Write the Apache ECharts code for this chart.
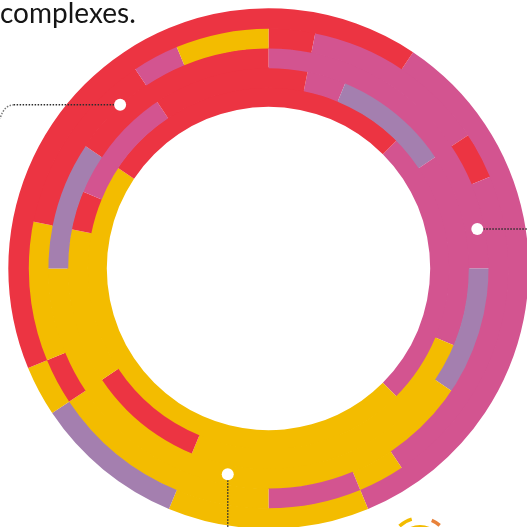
<!DOCTYPE html>
<html><head><meta charset="utf-8">
<script src="https://cdn.jsdelivr.net/npm/echarts@6/dist/echarts.min.js"></script>
<style>html,body{margin:0;padding:0;background:#fff;overflow:hidden}#c{width:527px;height:527px}</style>
</head><body><div id="c"></div>
<script>
// 32 angular cells per ring, clockwise from 12 o'clock. R=red, P=pink, Y=yellow, V=violet
const ring1 = ['R','R','R','P','P','P','P','P','P','P','P','P','P','P','Y','Y','Y','Y','V','V','V','Y','R','R','R','R','R','R','R','R','R','R'];
const ring2 = ['R','P','P','P','P','R','P','P','P','P','P','P','P','Y','P','P','Y','Y','Y','Y','Y','R','Y','Y','Y','R','R','R','R','P','Y','Y'];
const ring3 = ['P','P','P','P','P','P','P','P','V','V','V','Y','Y','Y','Y','Y','Y','Y','Y','Y','Y','Y','Y','Y','V','V','V','R','R','R','R','R'];
const ring4 = ['R','P','V','V','V','P','P','P','P','P','Y','Y','Y','Y','Y','Y','Y','Y','R','R','R','Y','Y','Y','Y','R','P','P','P','R','R','R'];
const ring5 = ['R','R','R','R','P','P','P','P','P','P','P','P','Y','Y','Y','Y','Y','Y','Y','Y','Y','Y','Y','Y','Y','Y','Y','R','R','R','R','R'];
const markerAngles = [317.8, 79.3, 191.2];
const markerRadii = [220.9, 212.5, 209.8];
const headline = 'complexes.';

const colorOf = {R:'#EC3442', P:'#D35490', Y:'#F3BC00', V:'#A47FAF'};
const rings = [ring5, ring4, ring3, ring2, ring1]; // inner -> outer
const radii = [161.7, 181.4, 201.1, 220.8, 240.5, 260.2];
const CX = 268.5, CY = 268.5;
const CELL = 360 / 32;

function runs(codes) {
  const n = codes.length;
  let s = 0;
  for (let i = 0; i < n; i++) { if (codes[i] !== codes[(i - 1 + n) % n]) { s = i; break; } }
  const out = []; let cur = null;
  for (let j = 0; j < n; j++) {
    const c = codes[(s + j) % n];
    if (cur && cur.code === c) cur.len++; else { cur = {code: c, len: 1}; out.push(cur); }
  }
  return {start: s, out};
}

const pieSeries = rings.map((codes, i) => {
  const r = runs(codes);
  return {
    type: 'pie', silent: true, animation: false,
    center: [CX, CY],
    radius: [radii[i] - (i ? 0.8 : 0), radii[i + 1]],
    startAngle: 90 - r.start * CELL, clockwise: true,
    label: {show: false}, labelLine: {show: false},
    emphasis: {disabled: true},
    itemStyle: {borderWidth: 0},
    z: 2 + i,
    data: r.out.map(o => ({value: o.len, itemStyle: {color: colorOf[o.code]}}))
  };
});

const chart = echarts.init(document.getElementById('c'), null, {renderer: 'canvas'});
chart.setOption({
  animation: false,
  backgroundColor: '#fff',
  polar: {center: [CX, CY], radius: radii[5]},
  angleAxis: {type: 'value', min: 0, max: 360, startAngle: 90, clockwise: true, show: false},
  radiusAxis: {type: 'value', min: 0, max: radii[5], show: false},
  series: pieSeries.concat([{
    type: 'scatter', coordinateSystem: 'polar', silent: true, z: 30,
    symbolSize: 12, itemStyle: {color: '#fff', opacity: 1},
    data: markerRadii.map((r, i) => [r, markerAngles[i]])
  }])
});

const pts = markerRadii.map((r, i) => chart.convertToPixel({seriesIndex: 5}, [r, markerAngles[i]]));
const dash = {stroke: '#2e2e2e', lineWidth: 1.5, lineDash: [1.5, 1.5], fill: null};
const y0 = pts[0][1];
chart.setOption({
  graphic: [
    {type: 'text', z: 40, style: {text: headline, x: 0, y: 0, font: '400 28px Lato', fill: '#151515', verticalAlign: 'top'}},
    {type: 'line', z: 25, shape: {x1: pts[0][0], y1: y0, x2: 14, y2: y0}, style: dash},
    {type: 'bezierCurve', z: 25, shape: {x1: 14, y1: y0, cpx1: 4, cpy1: y0, x2: 0, y2: y0 + 14}, style: Object.assign({}, dash, {stroke: '#777'})},
    {type: 'line', z: 25, shape: {x1: pts[1][0], y1: pts[1][1], x2: 527, y2: pts[1][1]}, style: dash},
    {type: 'line', z: 25, shape: {x1: pts[2][0], y1: pts[2][1], x2: pts[2][0], y2: 527}, style: dash},
    {type: 'arc', z: 5, shape: {cx: 420, cy: 548, r: 30, startAngle: -133 * Math.PI / 180, endAngle: -106 * Math.PI / 180}, style: {stroke: '#F3BC00', lineWidth: 3.5, fill: null}},
    {type: 'arc', z: 5, shape: {cx: 420, cy: 548, r: 30, startAngle: -67 * Math.PI / 180, endAngle: -49 * Math.PI / 180}, style: {stroke: '#E8823A', lineWidth: 3.5, fill: null}},
    {type: 'circle', z: 5, shape: {cx: 420, cy: 550, r: 25}, style: {fill: '#F3BC00'}}
  ]
});
</script>
</body></html>
